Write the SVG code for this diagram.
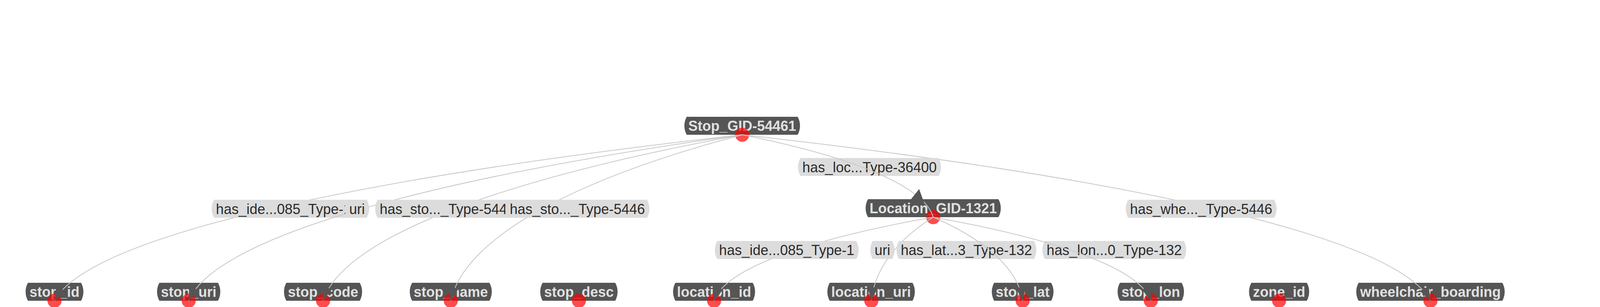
<svg xmlns="http://www.w3.org/2000/svg" width="4455" height="786" viewBox="0 0 4455 786">
<style>
.node path{fill:#555555}
.node text{font-family:"Liberation Sans",Arial,sans-serif;font-size:36px;font-weight:bold;fill:#e0e0e0;text-anchor:middle}
.dot{fill:#ff0000;fill-opacity:0.7}
.edge{fill:none;stroke:#c8c8c8;stroke-width:2}
.arrowed{marker-end:url(#arr)}
.label path{fill:#dcdcdc}
.label text{font-family:"Liberation Sans",Arial,sans-serif;font-size:36px;fill:#2b2b2b;text-anchor:middle}
.head{fill:#555555}
</style>
<defs>
<marker id="arr" markerUnits="userSpaceOnUse" viewBox="0 0 35 26" markerWidth="35" markerHeight="26" refX="35" refY="13" orient="auto">
<path d="M0,0 L35,13 L0,26 Z" fill="#555555"/>
</marker>
</defs>
<rect width="4455" height="786" fill="#ffffff"/>
<g id="nodes">
<g id="n-stop" class="node"><path d="M1758,299H2042A47 47 0 0 1 2042,345H1758A47 47 0 0 1 1758,299Z"/><text x="1900" y="335">Stop_GID-54461</text><circle class="dot" cx="1900" cy="345" r="18"/></g>
<g id="n-location" class="node"><path d="M2222,510H2556A47 47 0 0 1 2556,556H2222A47 47 0 0 1 2222,510Z"/><text x="2389" y="546">Location_GID-1321</text><circle class="dot" cx="2389" cy="556" r="18"/></g>
<g id="n-stop_id" class="node"><path d="M71.5,724H207.5A47 47 0 0 1 207.5,770H71.5A47 47 0 0 1 71.5,724Z"/><text x="139.5" y="760">stop_id</text><circle class="dot" cx="139.5" cy="770" r="18"/></g>
<g id="n-stop_uri" class="node"><path d="M408,724H558A47 47 0 0 1 558,770H408A47 47 0 0 1 408,724Z"/><text x="483" y="760">stop_uri</text><circle class="dot" cx="483" cy="770" r="18"/></g>
<g id="n-stop_code" class="node"><path d="M733,724H921A47 47 0 0 1 921,770H733A47 47 0 0 1 733,724Z"/><text x="827" y="760">stop_code</text><circle class="dot" cx="827" cy="770" r="18"/></g>
<g id="n-stop_name" class="node"><path d="M1055,724H1253A47 47 0 0 1 1253,770H1055A47 47 0 0 1 1055,724Z"/><text x="1154" y="760">stop_name</text><circle class="dot" cx="1154" cy="770" r="18"/></g>
<g id="n-stop_desc" class="node"><path d="M1389,724H1575A47 47 0 0 1 1575,770H1389A47 47 0 0 1 1389,724Z"/><text x="1482" y="760">stop_desc</text><circle class="dot" cx="1482" cy="770" r="18"/></g>
<g id="n-location_id" class="node"><path d="M1729,724H1927A47 47 0 0 1 1927,770H1729A47 47 0 0 1 1729,724Z"/><text x="1828" y="760">location_id</text><circle class="dot" cx="1828" cy="770" r="18"/></g>
<g id="n-location_uri" class="node"><path d="M2124,724H2336A47 47 0 0 1 2336,770H2124A47 47 0 0 1 2124,724Z"/><text x="2230" y="760">location_uri</text><circle class="dot" cx="2230.5" cy="770" r="18"/></g>
<g id="n-stop_lat" class="node"><path d="M2545,724H2691A47 47 0 0 1 2691,770H2545A47 47 0 0 1 2545,724Z"/><text x="2618" y="760">stop_lat</text><circle class="dot" cx="2618" cy="770" r="18"/></g>
<g id="n-stop_lon" class="node"><path d="M2867,724H3025A47 47 0 0 1 3025,770H2867A47 47 0 0 1 2867,724Z"/><text x="2946" y="760">stop_lon</text><circle class="dot" cx="2946" cy="770" r="18"/></g>
<g id="n-zone_id" class="node"><path d="M3203.5,724H3345.5A47 47 0 0 1 3345.5,770H3203.5A47 47 0 0 1 3203.5,724Z"/><text x="3274.5" y="760">zone_id</text><circle class="dot" cx="3274.5" cy="770" r="18"/></g>
<g id="n-wheelchair_boarding" class="node"><path d="M3478,724H3846A47 47 0 0 1 3846,770H3478A47 47 0 0 1 3478,724Z"/><text x="3662" y="760">wheelchair_boarding</text><circle class="dot" cx="3662" cy="770" r="18"/></g>
</g>
<g id="connectors">
<path class="edge arrowed" d="M1900,345 C799.7,468.3 216.1,621.3 139.5,770"/>
<path class="edge arrowed" d="M1900,345 C1229.4,468.3 873.7,621.3 827,770"/>
<path class="edge arrowed" d="M1900,345 C1433.8,468.3 1186.5,621.3 1154,770"/>
<path class="edge arrowed" d="M1900,345 C3001.3,468.3 3585.4,621.3 3662,770"/>
<path class="edge arrowed" d="M2389,556 C2038.4,618.1 1852.4,695.1 1828,770"/>
<path class="edge arrowed" d="M2389,556 C2290.3,618.1 2237.9,695.1 2230.5,770"/>
<g class="label"><path d="M548,511.5H904A47 47 0 0 1 904,557.5H548A47 47 0 0 1 548,511.5Z"/><text x="726" y="547.5">has_ide...085_Type-1</text></g>
<path class="edge arrowed" d="M1900,345 C1014.4,468.3 544.6,621.3 483,770"/>
<g class="label"><path d="M889,511.5H939A47 47 0 0 1 939,557.5H889A47 47 0 0 1 889,511.5Z"/><text x="914" y="547.5">uri</text></g>
<g class="label"><path d="M966.5,511.5H1323.5A47 47 0 0 1 1323.5,557.5H966.5A47 47 0 0 1 966.5,511.5Z"/><text x="1145" y="547.5">has_sto..._Type-5446</text></g>
<g class="label"><path d="M1299.5,511.5H1656.5A47 47 0 0 1 1656.5,557.5H1299.5A47 47 0 0 1 1299.5,511.5Z"/><text x="1478" y="547.5">has_sto..._Type-5446</text></g>
<g class="label"><path d="M2888,511.5H3262A47 47 0 0 1 3262,557.5H2888A47 47 0 0 1 2888,511.5Z"/><text x="3075" y="547.5">has_whe..._Type-5446</text></g>
<g class="label"><path d="M1836,617H2192A47 47 0 0 1 2192,663H1836A47 47 0 0 1 1836,617Z"/><text x="2014" y="653">has_ide...085_Type-1</text></g>
<g class="label"><path d="M2234,617H2284A47 47 0 0 1 2284,663H2234A47 47 0 0 1 2234,617Z"/><text x="2259" y="653">uri</text></g>
<g class="label"><path d="M2301,617H2647A47 47 0 0 1 2647,663H2301A47 47 0 0 1 2301,617Z"/><text x="2474" y="653">has_lat...3_Type-132</text></g>
<g class="label"><path d="M2674.5,617H3030.5A47 47 0 0 1 3030.5,663H2674.5A47 47 0 0 1 2674.5,617Z"/><text x="2852.5" y="653">has_lon...0_Type-132</text></g>
<g class="label"><path d="M2049,404.5H2403A47 47 0 0 1 2403,450.5H2049A47 47 0 0 1 2049,404.5Z"/><text x="2226" y="440.5">has_loc...Type-36400</text></g>
<path class="edge arrowed" d="M2389,556 C2532.1,618.1 2608,695.1 2618,770"/>
<path class="edge arrowed" d="M2389,556 C2737.1,618.1 2921.8,695.1 2946,770"/>
<path class="edge" d="M1900,345 C2205.6,406.2 2367.7,482.2 2389,556"/>
<polygon class="head" points="2353,484 2329,514 2366,520"/>
</g>
</svg>
